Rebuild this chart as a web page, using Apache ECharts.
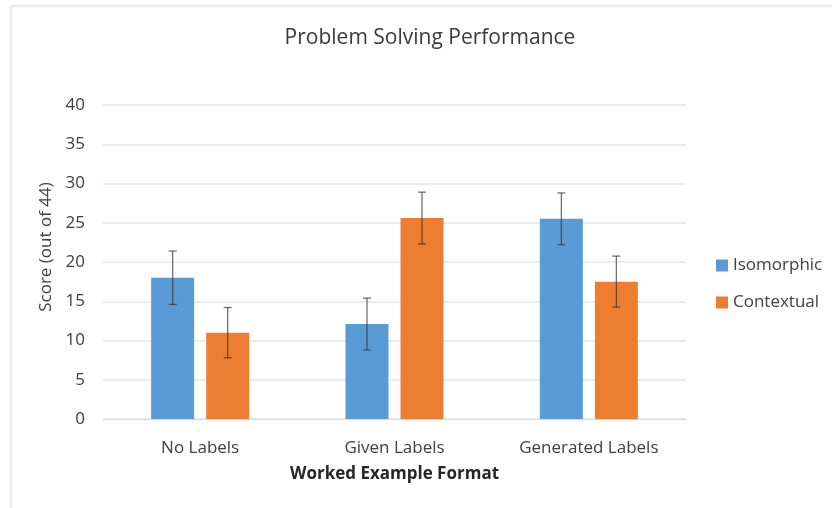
<!DOCTYPE html>
<html>
<head>
<meta charset="utf-8">
<script src="https://cdn.jsdelivr.net/npm/echarts@6/dist/echarts.min.js"></script>
<style>
  html, body { margin: 0; padding: 0; background: #fff; }
  #chart { width: 832px; height: 508px; }
</style>
</head>
<body>
<div id="chart"></div>
<script>
const categories = ['No Labels', 'Given Labels', 'Generated Labels']
const isomorphic = [18, 12.1, 25.5]
const contextual = [11, 25.6, 17.5]
// error bar half-widths
const isoErr = [3.4, 3.3, 3.3]
const ctxErr = [3.2, 3.3, 3.25]
const yTicks = [0, 5, 10, 15, 20, 25, 30, 35, 40]

const font = '"Open Sans", sans-serif'
const barWidth = 43
const barGapPx = 12

// error bars, drawn at the centre of each bar
const errorSeries = (values, errs, offset) => ({
  type: 'custom',
  silent: true,
  z: 5,
  data: values.map((v, i) => [i, v - errs[i], v + errs[i]]),
  renderItem: (params, api) => {
    const lo = api.coord([api.value(0), api.value(1)])
    const hi = api.coord([api.value(0), api.value(2)])
    const x = lo[0] + offset
    const cap = 4
    const style = { stroke: 'rgba(50,50,50,0.75)', lineWidth: 1.2 }
    return {
      type: 'group',
      children: [
        { type: 'line', shape: { x1: x, y1: hi[1], x2: x, y2: lo[1] }, style },
        { type: 'line', shape: { x1: x - cap, y1: hi[1], x2: x + cap, y2: hi[1] }, style },
        { type: 'line', shape: { x1: x - cap, y1: lo[1], x2: x + cap, y2: lo[1] }, style }
      ]
    }
  }
})

const chart = echarts.init(document.getElementById('chart'))
const off = (barWidth + barGapPx) / 2

chart.setOption({
  animation: false,
  title: {
    text: 'Problem Solving Performance',
    left: 425,
    textAlign: 'center',
    top: 23,
    textStyle: { fontFamily: font, fontSize: 21, fontWeight: 'normal', color: '#3a3a3a' }
  },
  legend: {
    orient: 'vertical',
    left: 711,
    top: 252,
    itemWidth: 12,
    itemHeight: 12,
    itemGap: 20,
    icon: 'rect',
    textStyle: { fontFamily: font, fontSize: 17, color: '#404040' },
    data: ['Isomorphic', 'Contextual']
  },
  grid: { left: 103, right: 146, top: 105, bottom: 89 },
  xAxis: {
    type: 'category',
    data: categories,
    name: 'Worked Example Format',
    nameLocation: 'middle',
    nameGap: 47,
    nameTextStyle: { fontFamily: font, fontSize: 17, fontWeight: 'bold', color: '#262626' },
    axisLine: { lineStyle: { color: '#d9d9d9' } },
    axisTick: { show: false },
    axisLabel: { fontFamily: font, fontSize: 17, color: '#404040', margin: 21 }
  },
  yAxis: {
    type: 'value',
    min: 0,
    max: 40,
    interval: 5,
    name: 'Score (out of 44)',
    nameLocation: 'middle',
    nameGap: 48,
    nameTextStyle: { fontFamily: font, fontSize: 17, color: '#404040', padding: [0, 0, 0, 30] },
    axisLine: { show: false },
    axisTick: { show: false },
    axisLabel: {
      fontFamily: font, fontSize: 17, color: '#404040', margin: 18,
      formatter: v => yTicks.includes(v) ? String(v) : ''
    },
    splitLine: { lineStyle: { color: '#e6e6e6', width: 1.5 } }
  },
  graphic: [
    { type: 'line', shape: { x1: 11, y1: 6, x2: 832, y2: 6 }, style: { stroke: '#ececec', lineWidth: 2.5 } },
    { type: 'line', shape: { x1: 11, y1: 6, x2: 11, y2: 508 }, style: { stroke: '#ececec', lineWidth: 2.5 } }
  ],
  series: [
    {
      name: 'Isomorphic',
      type: 'bar',
      data: isomorphic,
      barWidth: barWidth,
      barGap: (barGapPx / barWidth * 100).toFixed(0) + '%',
      itemStyle: { color: '#5b9bd5' }
    },
    {
      name: 'Contextual',
      type: 'bar',
      data: contextual,
      barWidth: barWidth,
      itemStyle: { color: '#ed7d31' }
    },
    errorSeries(isomorphic, isoErr, -off),
    errorSeries(contextual, ctxErr, off)
  ]
})
</script>
</body>
</html>
